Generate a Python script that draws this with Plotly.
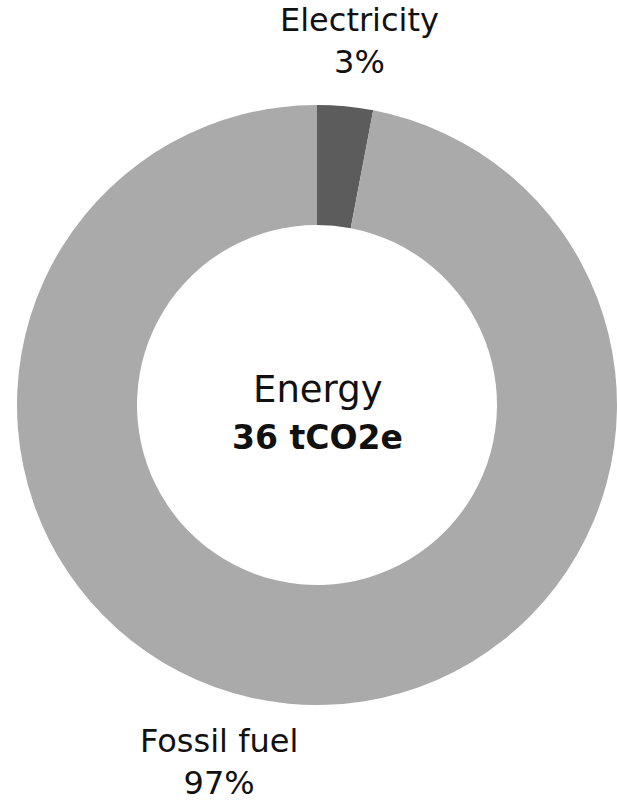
import plotly.graph_objects as go

W, H = 617, 803

# Energy emissions split
categories = ["Electricity", "Fossil fuel"]
shares = [3, 97]
total_label = "36 tCO2e"
title_label = "Energy"
colors = ["#5c5c5c", "#aaaaaa"]

FONT = "DejaVu Sans"

fig = go.Figure(
    go.Pie(
        labels=categories,
        values=shares,
        hole=0.6,
        sort=False,
        direction="clockwise",
        rotation=0,
        marker=dict(colors=colors, line=dict(width=0)),
        textinfo="none",
        hoverinfo="label+percent",
        showlegend=False,
        domain=dict(x=[17 / W, 1.0], y=[(H - 405 - 301) / H, (H - 405 + 301) / H]),
    )
)


def py(px):
    return 1 - px / H


# slice labels (name and share on two lines)
fig.add_annotation(x=360 / W, y=1.0, xref="paper", yref="paper",
                   text=f"{categories[0]}<br>{shares[0]}%", showarrow=False,
                   xanchor="center", yanchor="top", borderpad=0,
                   font=dict(family=FONT, size=32, color="#111111"))
fig.add_annotation(x=219 / W, y=0.0, xref="paper", yref="paper",
                   text=f"{categories[1]}<br>{shares[1]}%", showarrow=False,
                   xanchor="center", yanchor="bottom", borderpad=0,
                   font=dict(family=FONT, size=32, color="#111111"))

# centre text
fig.add_annotation(x=318 / W, y=py(390), xref="paper", yref="paper", text=title_label,
                   showarrow=False, xanchor="center", yanchor="middle",
                   font=dict(family=FONT, size=37, color="#111111"))
fig.add_annotation(x=318 / W, y=py(438), xref="paper", yref="paper", text=f"<b>{total_label}</b>",
                   showarrow=False, xanchor="center", yanchor="middle",
                   font=dict(family=FONT, size=33, color="#111111"))

fig.update_layout(
    width=W, height=H,
    margin=dict(l=0, r=0, t=0, b=0),
    paper_bgcolor="white",
    plot_bgcolor="white",
)

fig.write_html("out.html")
